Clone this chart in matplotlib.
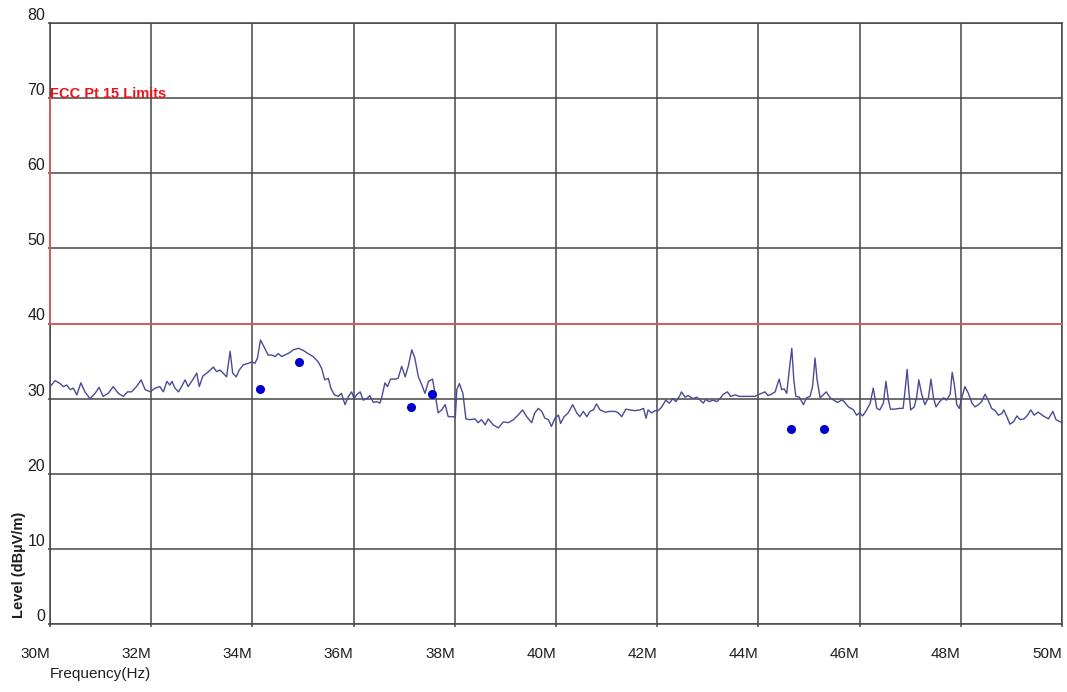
import matplotlib
matplotlib.use('Agg')
import matplotlib.pyplot as plt
import matplotlib.ticker as mticker

plt.rcParams['font.family'] = ['Liberation Sans', 'DejaVu Sans']

# Sweep trace, frequency in MHz, level in dBuV/m
freq_mhz = [
    30.03, 30.10, 30.20, 30.26, 30.33, 30.40, 30.46, 30.53, 30.61, 30.69,
    30.79, 30.89, 30.97, 31.05, 31.15, 31.25, 31.35, 31.45, 31.53, 31.61,
    31.71, 31.80, 31.88, 31.98, 32.08, 32.17, 32.24, 32.31, 32.37, 32.41,
    32.47, 32.54, 32.60, 32.67, 32.73, 32.82, 32.90, 32.95, 33.02, 33.10,
    33.23, 33.29, 33.36, 33.42, 33.49, 33.56, 33.61, 33.68, 33.74, 33.82,
    33.92, 33.99, 34.05, 34.10, 34.16, 34.23, 34.31, 34.38, 34.45, 34.51,
    34.58, 34.64, 34.73, 34.81, 34.91, 35.01, 35.10, 35.20, 35.30, 35.37,
    35.43, 35.50, 35.55, 35.62, 35.70, 35.76, 35.83, 35.90, 35.96, 36.01,
    36.06, 36.13, 36.19, 36.26, 36.32, 36.39, 36.46, 36.52, 36.55, 36.62,
    36.67, 36.73, 36.82, 36.88, 36.95, 37.02, 37.08, 37.15, 37.21, 37.28,
    37.35, 37.41, 37.48, 37.56, 37.61, 37.67, 37.74, 37.81, 37.87, 37.97,
    38.01, 38.04, 38.09, 38.16, 38.22, 38.30, 38.40, 38.46, 38.53, 38.60,
    38.66, 38.76, 38.86, 38.96, 39.06, 39.16, 39.25, 39.34, 39.42, 39.52,
    39.58, 39.65, 39.72, 39.78, 39.85, 39.91, 39.98, 40.05, 40.09, 40.16,
    40.24, 40.33, 40.41, 40.47, 40.54, 40.61, 40.67, 40.74, 40.80, 40.87,
    40.97, 41.07, 41.17, 41.23, 41.30, 41.38, 41.46, 41.56, 41.66, 41.73,
    41.78, 41.82, 41.89, 41.96, 42.02, 42.09, 42.17, 42.24, 42.31, 42.37,
    42.44, 42.48, 42.55, 42.61, 42.71, 42.78, 42.85, 42.91, 42.96, 43.03,
    43.10, 43.18, 43.24, 43.31, 43.39, 43.45, 43.54, 43.62, 43.72, 43.83,
    43.93, 43.99, 44.06, 44.13, 44.19, 44.26, 44.33, 44.41, 44.46, 44.51,
    44.56, 44.61, 44.66, 44.70, 44.74, 44.81, 44.89, 44.95, 45.02, 45.07,
    45.12, 45.16, 45.22, 45.28, 45.34, 45.42, 45.49, 45.56, 45.65, 45.68,
    45.78, 45.88, 45.94, 46.00, 46.06, 46.14, 46.21, 46.27, 46.34, 46.40,
    46.47, 46.52, 46.57, 46.61, 46.70, 46.78, 46.86, 46.90, 46.94, 46.97,
    47.01, 47.08, 47.13, 47.17, 47.23, 47.29, 47.36, 47.41, 47.46, 47.51,
    47.58, 47.66, 47.72, 47.79, 47.83, 47.87, 47.92, 47.97, 48.02, 48.08,
    48.15, 48.22, 48.28, 48.35, 48.41, 48.48, 48.54, 48.61, 48.68, 48.74,
    48.81, 48.85, 48.91, 48.97, 49.04, 49.11, 49.17, 49.25, 49.32, 49.38,
    49.45, 49.53, 49.63, 49.73, 49.82, 49.88, 50.00,
]
level_dbuv = [
    31.8, 32.4, 32.0, 31.6, 31.8, 31.2, 31.4, 30.5, 32.1, 30.9,
    30.0, 30.7, 31.5, 30.3, 30.7, 31.6, 30.7, 30.3, 30.9, 30.9,
    31.6, 32.5, 31.2, 30.9, 31.4, 31.6, 30.9, 32.3, 31.8, 32.3,
    31.4, 30.9, 31.6, 32.5, 31.6, 32.5, 33.4, 31.6, 33.0, 33.4,
    34.2, 33.6, 33.8, 33.4, 32.9, 36.3, 33.4, 32.9, 33.8, 34.5,
    34.7, 34.9, 34.7, 35.4, 37.8, 36.9, 35.8, 35.8, 35.6, 36.0,
    35.6, 35.8, 36.1, 36.5, 36.7, 36.4, 36.0, 35.6, 34.9, 34.0,
    32.5, 32.7, 31.4, 30.5, 30.3, 30.7, 29.2, 30.3, 30.9, 30.0,
    30.5, 30.9, 29.8, 30.0, 30.4, 29.5, 29.6, 29.4, 30.0, 32.1,
    31.6, 32.6, 32.6, 32.7, 34.3, 32.9, 34.3, 36.5, 35.4, 32.9,
    31.8, 30.7, 32.3, 32.6, 30.7, 28.1, 28.5, 29.2, 27.6, 27.6,
    27.5, 31.2, 32.0, 30.7, 27.3, 27.2, 27.3, 26.8, 27.2, 26.5,
    27.3, 26.5, 26.1, 26.9, 26.8, 27.2, 27.8, 28.5, 27.6, 26.8,
    28.1, 28.7, 28.3, 27.4, 27.2, 26.3, 27.4, 27.8, 26.7, 27.6,
    28.1, 29.2, 28.1, 27.6, 28.3, 27.6, 28.3, 28.5, 29.3, 28.5,
    28.2, 28.3, 28.3, 28.1, 27.6, 28.6, 28.5, 28.4, 28.5, 28.7,
    27.4, 28.5, 28.1, 28.4, 28.4, 28.9, 29.8, 29.4, 30.0, 29.6,
    30.3, 30.9, 30.2, 30.4, 30.0, 30.2, 29.8, 29.4, 29.9, 29.6,
    29.8, 29.6, 30.0, 30.6, 30.9, 30.3, 30.5, 30.3, 30.3, 30.3,
    30.3, 30.5, 30.7, 30.9, 30.4, 30.6, 30.9, 32.6, 31.2, 31.3,
    30.7, 33.8, 36.7, 32.5, 30.3, 30.2, 29.2, 30.1, 30.3, 31.6,
    35.4, 32.5, 30.1, 30.5, 30.9, 30.1, 29.8, 29.5, 29.8, 29.7,
    28.9, 28.5, 27.8, 28.1, 27.7, 28.5, 29.4, 31.4, 28.7, 28.5,
    29.4, 32.3, 29.8, 28.6, 28.6, 28.7, 28.7, 31.2, 33.9, 31.2,
    28.5, 28.9, 30.3, 32.5, 30.5, 29.2, 30.1, 32.6, 30.1, 28.9,
    29.6, 30.1, 29.8, 30.6, 33.5, 32.0, 29.2, 28.7, 30.1, 31.6,
    30.7, 29.4, 28.9, 29.2, 29.6, 30.6, 29.8, 28.7, 28.4, 27.8,
    28.0, 28.5, 27.6, 26.6, 26.9, 27.7, 27.2, 27.3, 27.8, 28.5,
    27.8, 28.2, 27.7, 27.3, 28.3, 27.2, 26.8,
]

# Final measurement points
peak_freq_mhz = [34.15, 34.92, 37.13, 37.55, 44.64, 45.30]
peak_level_dbuv = [31.3, 34.9, 28.9, 30.6, 26.0, 26.0]

# FCC Part 15 limit outline
limit_freq_mhz = [30.0, 30.0, 50.0]
limit_level_dbuv = [70.0, 40.0, 40.0]

x_ticks = [30, 32, 34, 36, 38, 40, 42, 44, 46, 48, 50]
y_ticks = [0, 10, 20, 30, 40, 50, 60, 70, 80]

GRID = '#474747'
TRACE = '#4a4a98'
LIMIT = '#e25c5c'

fig = plt.figure(figsize=(10.67, 6.92), dpi=100)
ax = fig.add_axes([50 / 1067, 68 / 692, 1012 / 1067, 601 / 692])

ax.set_xlim(30, 50)
ax.set_ylim(0, 80)
ax.set_xticks(x_ticks)
ax.set_yticks(y_ticks)
ax.xaxis.set_major_formatter(mticker.FuncFormatter(lambda v, p: f'{v:g}M'))

ax.grid(True, color=GRID, linewidth=1.1)
ax.set_axisbelow(True)
for sp in ax.spines.values():
    sp.set_color(GRID)
    sp.set_linewidth(1.1)

ax.tick_params(axis='x', length=2.5, width=1.1, color=GRID, pad=14,
               labelsize=11, labelcolor='#1e1e1e')
ax.tick_params(axis='y', length=1.5, width=1.1, color=GRID, pad=2,
               labelsize=11.5, labelcolor='#1e1e1e')
for lbl in ax.get_xticklabels():
    lbl.set_horizontalalignment('right')
for lbl in ax.get_yticklabels():
    lbl.set_verticalalignment('bottom')

ax.plot(freq_mhz, level_dbuv, color=TRACE, linewidth=1.0, zorder=3)
ax.plot(limit_freq_mhz, limit_level_dbuv, color=LIMIT, linewidth=1.3, zorder=4,
        clip_on=False)
ax.plot(peak_freq_mhz, peak_level_dbuv, 'o', color='#0000cc', markersize=5.5,
        zorder=5)

ax.text(limit_freq_mhz[0], limit_level_dbuv[0], 'FCC Pt 15 Limits', color='#e8141c',
        fontsize=10.5, fontweight='bold', ha='left', va='baseline', zorder=6)

ax.set_xlabel('Frequency(Hz)', fontsize=11, color='#1e1e1e', ha='left')
ax.xaxis.set_label_coords(0.0, -0.072)
ax.set_ylabel('Level (dBµV/m)', fontsize=10.5, fontweight='bold', color='#1e1e1e')
ax.yaxis.set_label_coords(-0.024, 0.098)

fig.savefig('out.png', dpi=100, facecolor='white')
